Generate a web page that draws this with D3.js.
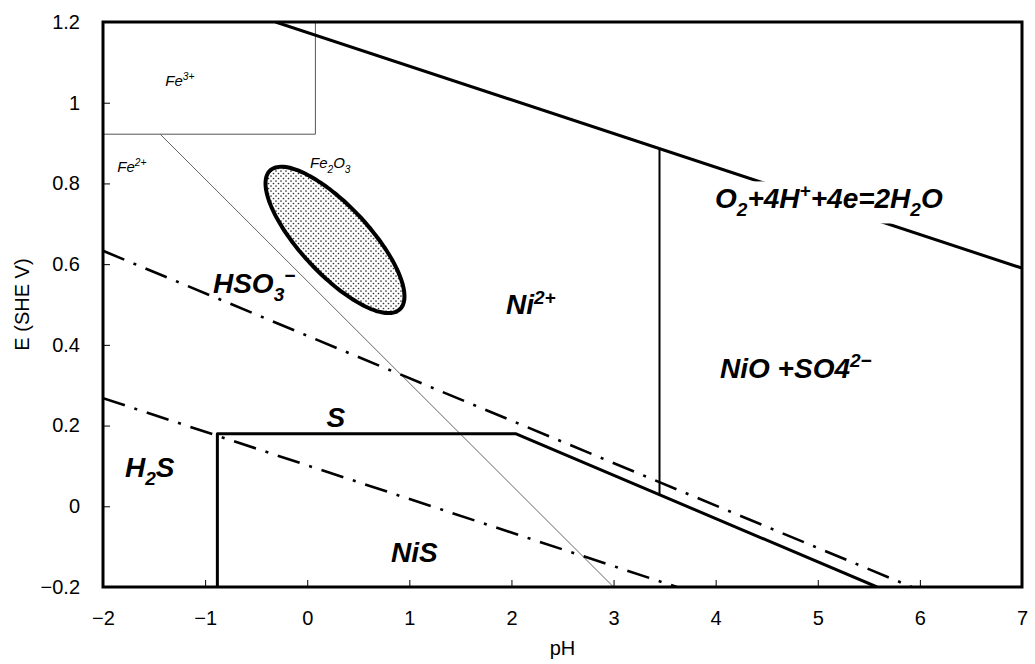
<!DOCTYPE html>
<html>
<head>
<meta charset="utf-8">
<script src="https://cdn.jsdelivr.net/npm/d3@7"></script>
<style>
  html, body { margin: 0; padding: 0; background: #fff; }
  svg { display: block; }
  text { font-family: "Liberation Sans", Arial, sans-serif; }
</style>
</head>
<body>
<svg id="chart" width="1035" height="664"></svg>
<script>
// Potential–pH (Pourbaix) diagram for the Ni–S–H2O system with Fe overlay

const xTicks = [-2, -1, 0, 1, 2, 3, 4, 5, 6, 7];
const yTicks = [-0.2, 0, 0.2, 0.4, 0.6, 0.8, 1, 1.2];

// Oxygen evolution line  O2 + 4H+ + 4e = 2H2O
const waterLine = [[-0.31, 1.2], [7, 0.59]];
// Fe3+ / Fe2+ / Fe2O3 boundaries
const fe3Boundary = [[0.08, 1.2], [0.08, 0.922], [-2, 0.922]];
const fe2Boundary = [[-1.44, 0.922], [3.0, -0.2]];
// Sulfur species boundaries (dash-dot)
const sulfateLine = [[-2, 0.633], [5.92, -0.2]];
const sulfideLine = [[-2, 0.268], [3.62, -0.2]];
// NiS stability field
const nisBoundary = [[-0.88, -0.2], [-0.88, 0.18], [2.04, 0.18], [5.58, -0.2]];
// Ni2+ / NiO boundary
const niBoundary = [[3.45, 0.028], [3.45, 0.886]];
// Fe2O3 region: centre and two semi-axis vectors (pH, V)
const fe2o3Centre = [0.272, 0.660];
const fe2o3Major = [0.635, -0.172];
const fe2o3Minor = [0.244, 0.0575];

// Field labels: [text, "sub" | "sup" | undefined] parts, anchored at (pH, E)
const fieldLabels = [
  { parts: [["HSO"], ["3", "sub"], ["\u2212", "sup"]], at: [-0.923, 0.529] },
  { parts: [["Ni"], ["2+", "sup"]], at: [1.947, 0.476] },
  { parts: [["O"], ["2", "sub"], ["+4H"], ["+", "sup"], ["+4e=2H"], ["2", "sub"], ["O"]], at: [3.994, 0.739] },
  { parts: [["NiO +SO4"], ["2\u2212", "sup"]], at: [4.043, 0.318] },
  { parts: [["S"]], at: [0.19, 0.197] },
  { parts: [["H"], ["2", "sub"], ["S"]], at: [-1.785, 0.073] },
  { parts: [["NiS"]], at: [0.82, -0.137] }
];
const ironLabels = [
  { parts: [["Fe"], ["3+", "sup"]], at: [-1.39, 1.041] },
  { parts: [["Fe"], ["2+", "sup"]], at: [-1.86, 0.828] },
  { parts: [["Fe"], ["2", "sub"], ["O"], ["3", "sub"]], at: [0.027, 0.838] }
];

const W = 1035, H = 664;
const margin = { left: 103, right: 13, top: 22, bottom: 77 };
const svg = d3.select("#chart");

const x = d3.scaleLinear().domain([-2, 7]).range([margin.left, W - margin.right]);
const y = d3.scaleLinear().domain([-0.2, 1.2]).range([H - margin.bottom, margin.top]);

const line = d3.line().x(d => x(d[0])).y(d => y(d[1]));

// dotted fill for the Fe2O3 region
const defs = svg.append("defs");
const pat = defs.append("pattern")
  .attr("id", "dots").attr("patternUnits", "userSpaceOnUse")
  .attr("width", 5).attr("height", 5);
pat.append("rect").attr("width", 5).attr("height", 5).attr("fill", "#fff");
pat.append("circle").attr("cx", 1).attr("cy", 1).attr("r", 0.85).attr("fill", "#333");
pat.append("circle").attr("cx", 3.5).attr("cy", 3.5).attr("r", 0.85).attr("fill", "#333");

const clip = defs.append("clipPath").attr("id", "plotClip");
clip.append("rect")
  .attr("x", x(-2)).attr("y", y(1.2))
  .attr("width", x(7) - x(-2)).attr("height", y(-0.2) - y(1.2));

const plot = svg.append("g").attr("clip-path", "url(#plotClip)");

// Fe boundaries (thin grey)
plot.append("path").datum(fe3Boundary).attr("d", line)
  .attr("fill", "none").attr("stroke", "#555").attr("stroke-width", 1);
plot.append("path").datum(fe2Boundary).attr("d", line)
  .attr("fill", "none").attr("stroke", "#666").attr("stroke-width", 1);

// sulfur boundaries (dash-dot)
[sulfateLine, sulfideLine].forEach(seg => {
  plot.append("path").datum(seg).attr("d", line)
    .attr("fill", "none").attr("stroke", "#000").attr("stroke-width", 2.6)
    .attr("stroke-dasharray", "23,10,3,10");
});

// NiS field and Ni2+/NiO boundary
plot.append("path").datum(nisBoundary).attr("d", line)
  .attr("fill", "none").attr("stroke", "#000").attr("stroke-width", 3)
  .attr("stroke-linejoin", "round");
plot.append("path").datum(niBoundary).attr("d", line)
  .attr("fill", "none").attr("stroke", "#000").attr("stroke-width", 2);

// water line
plot.append("path").datum(waterLine).attr("d", line)
  .attr("fill", "none").attr("stroke", "#000").attr("stroke-width", 3);

// Fe2O3 ellipse traced parametrically in data space
const ellipsePts = d3.range(0, 361, 3).map(deg => {
  const t = deg * Math.PI / 180;
  return [
    fe2o3Centre[0] + Math.cos(t) * fe2o3Major[0] + Math.sin(t) * fe2o3Minor[0],
    fe2o3Centre[1] + Math.cos(t) * fe2o3Major[1] + Math.sin(t) * fe2o3Minor[1]
  ];
});
plot.append("path").datum(ellipsePts)
  .attr("d", d3.line().x(d => x(d[0])).y(d => y(d[1])).curve(d3.curveCardinalClosed))
  .attr("fill", "url(#dots)").attr("stroke", "#000").attr("stroke-width", 4);

// rich text helper: sub/superscripts via tspans
function richText(g, parts, px, py, size, weight) {
  const t = g.append("text")
    .attr("x", px).attr("y", py)
    .attr("font-size", size)
    .attr("font-style", "italic")
    .attr("font-weight", weight)
    .attr("fill", "#000");
  let offset = 0;
  parts.forEach(([str, kind]) => {
    let target = 0, fs = size;
    if (kind === "sub") { target = size * 0.3; fs = size * 0.68; }
    if (kind === "sup") { target = -size * 0.38; fs = size * 0.68; }
    t.append("tspan")
      .attr("dy", target - offset)
      .attr("font-size", fs)
      .text(str);
    offset = target;
  });
  return t;
}

const labelLayer = svg.append("g");
fieldLabels.forEach(lab => {
  const t = richText(labelLayer, lab.parts, x(lab.at[0]), y(lab.at[1]), 28, "bold");
  if (lab.parts.length > 4) {
    // clear the water line behind the reaction label
    const bb = t.node().getBBox();
    labelLayer.insert("rect", "text")
      .attr("x", bb.x - 8).attr("y", bb.y + 1)
      .attr("width", bb.width + 14).attr("height", bb.height + 2)
      .attr("fill", "#fff");
  }
});
ironLabels.forEach(lab => {
  richText(labelLayer, lab.parts, x(lab.at[0]), y(lab.at[1]), 15, "normal");
});

// axes with inward ticks
const fmt = d3.format("~g");
const yAxis = svg.append("g").attr("transform", `translate(${x(-2)},0)`)
  .call(d3.axisLeft(y).tickValues(yTicks).tickFormat(fmt).tickSize(-7).tickPadding(23));
const xAxis = svg.append("g").attr("transform", `translate(0,${y(-0.2)})`)
  .call(d3.axisBottom(x).tickValues(xTicks).tickFormat(fmt).tickSize(-7).tickPadding(24));
[xAxis, yAxis].forEach(a => {
  a.select(".domain").remove();
  a.selectAll(".tick line").attr("stroke", "#000").attr("stroke-width", 1);
  a.selectAll(".tick text")
    .attr("font-family", "Liberation Sans, Arial, sans-serif")
    .attr("font-size", 20).attr("fill", "#000");
});

// plot frame
svg.append("rect")
  .attr("x", x(-2)).attr("y", y(1.2))
  .attr("width", x(7) - x(-2)).attr("height", y(-0.2) - y(1.2))
  .attr("fill", "none").attr("stroke", "#000").attr("stroke-width", 3);

// axis titles
svg.append("text")
  .attr("x", (x(-2) + x(7)) / 2).attr("y", 655)
  .attr("text-anchor", "middle").attr("font-size", 20)
  .text("pH");
svg.append("text")
  .attr("transform", `translate(29,${(y(-0.2) + y(1.2)) / 2}) rotate(-90)`)
  .attr("text-anchor", "middle").attr("font-size", 20)
  .text("E (SHE V)");
</script>
</body>
</html>
